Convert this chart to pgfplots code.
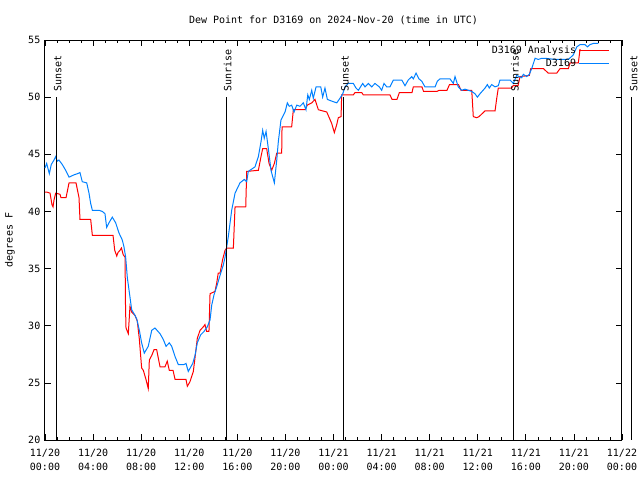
\documentclass[border=0pt]{standalone}
\usepackage{pgfplots}
\pgfplotsset{compat=1.18}
\usepackage{fontspec}
\setmainfont{DejaVu Sans Mono}
\definecolor{ared}{RGB}{255,0,0}
\definecolor{obsblue}{RGB}{0,128,255}
\newcommand{\gfont}{\fontsize{7.5}{10.5}\selectfont}
\begin{document}
\begin{tikzpicture}
\path[use as bounding box] (-33.75pt,-30pt) rectangle (446.25pt,330pt);
\begin{axis}[
  at={(0,0)}, anchor=south west,
  scale only axis, width=432.75pt, height=300pt,
  xmin=0, xmax=48, ymin=20, ymax=55,
  xtick={0,4,...,48}, minor xtick={0,1,...,48},
  ytick={20,25,...,55},
  xticklabels={{11/20\\00:00},{11/20\\04:00},{11/20\\08:00},{11/20\\12:00},{11/20\\16:00},{11/20\\20:00},{11/21\\00:00},{11/21\\04:00},{11/21\\08:00},{11/21\\12:00},{11/21\\16:00},{11/21\\20:00},{11/22\\00:00}},
  xticklabel style={align=center, font=\gfont, yshift=-3.5pt},
  yticklabel style={font=\gfont},
  /pgf/number format/assume math mode=true,
  tick align=inside, major tick length=4.5pt, minor tick length=2.5pt,
  tick style={black, line width=0.5pt},
  axis line style={line width=0.75pt},
  clip=false,
  legend style={at={(rel axis cs:1,1)}, anchor=north east, draw=none, fill=none, inner sep=0pt, xshift=-9pt, yshift=-2.25pt, font=\gfont, row sep=-1.5pt},
  legend plot pos=right, legend cell align=right,
  legend image code/.code={\draw[#1] (0pt,0pt) -- (22.5pt,0pt);},
]
\addplot[ared, line width=0.75pt] table {
0 41.7
0.14 41.7
0.42 41.6
0.58 40.6
0.67 40.4
0.75 41.0
0.89 41.6
1.25 41.5
1.33 41.2
1.75 41.2
2.00 42.5
2.58 42.5
2.83 41.2
2.91 39.3
3.80 39.3
3.94 37.9
5.66 37.9
5.80 36.6
5.97 36.1
6.07 36.4
6.24 36.6
6.36 36.8
6.51 36.2
6.66 36.0
6.70 31.5
6.74 29.8
6.93 29.3
7.07 31.7
7.21 31.2
7.49 30.9
7.68 30.4
7.85 28.8
8.04 26.3
8.18 26.1
8.40 25.3
8.59 24.5
8.68 27.0
8.88 27.4
9.07 27.9
9.29 27.9
9.57 26.4
9.98 26.4
10.17 26.9
10.34 26.1
10.65 26.1
10.82 25.3
11.73 25.3
11.84 24.7
12.06 25.1
12.34 26.0
12.56 27.9
12.67 28.9
12.90 29.6
13.17 29.9
13.31 30.1
13.45 29.5
13.64 29.5
13.73 32.8
14.14 33.0
14.28 33.7
14.41 34.6
14.56 34.6
14.78 35.8
14.98 36.6
15.12 36.8
15.67 36.8
15.81 40.4
16.70 40.4
16.78 43.5
17.75 43.6
17.97 44.8
18.11 45.5
18.44 45.5
18.64 44.2
18.86 43.6
19.08 44.2
19.28 45.1
19.69 45.1
19.72 47.4
20.52 47.4
20.66 48.9
21.63 48.9
21.82 49.3
22.19 49.5
22.46 49.8
22.74 48.9
23.44 48.7
23.85 47.7
24.07 46.9
24.27 47.6
24.40 48.2
24.63 48.3
24.68 50.2
25.65 50.2
25.79 50.4
26.35 50.4
26.48 50.2
28.70 50.2
28.87 49.8
29.28 49.8
29.48 50.4
30.53 50.4
30.64 50.9
31.36 50.9
31.49 50.5
32.61 50.5
32.80 50.6
33.44 50.6
33.65 51.1
34.40 51.1
34.61 50.6
35.50 50.6
35.63 48.3
35.91 48.2
36.11 48.3
36.61 48.8
37.44 48.8
37.58 49.9
37.71 50.8
38.83 50.8
38.94 51.0
39.35 51.0
39.52 51.8
40.29 51.9
40.41 52.5
41.46 52.5
41.87 52.1
42.57 52.1
42.85 52.5
43.54 52.5
43.68 53.0
44.37 53.0
44.51 54.2
};
\addlegendentry{D3169 Analysis}
\addplot[obsblue, line width=0.75pt] table {
0.00 43.8
0.14 44.2
0.36 43.3
0.52 44.1
0.75 44.5
0.89 44.8
1.02 44.4
1.16 44.5
1.44 44.1
1.72 43.6
2.00 43.0
2.41 43.2
2.69 43.3
2.91 43.4
3.10 42.6
3.47 42.5
3.66 41.6
3.80 40.7
3.94 40.1
4.49 40.1
4.77 40.0
4.99 39.8
5.13 38.6
5.32 39.0
5.60 39.5
5.88 39.0
6.16 38.1
6.43 37.5
6.57 36.9
6.71 36.0
6.85 34.2
7.07 32.5
7.21 31.4
7.49 30.9
7.63 30.6
7.85 29.6
8.04 28.5
8.26 27.6
8.59 28.2
8.88 29.6
9.15 29.8
9.57 29.3
9.84 28.8
10.07 28.2
10.34 28.5
10.54 28.2
10.82 27.3
11.09 26.6
11.56 26.6
11.73 26.7
11.92 26.0
12.29 26.7
12.48 27.4
12.67 28.5
12.95 29.2
13.23 29.5
13.50 29.9
13.73 30.5
13.87 31.8
14.06 32.7
14.28 33.4
14.56 34.4
14.83 35.3
14.98 36.0
15.25 37.8
15.53 40.1
15.81 41.6
16.22 42.5
16.58 42.8
16.78 42.6
16.91 43.5
17.47 43.9
17.75 44.8
17.97 46.1
18.11 47.1
18.24 46.4
18.39 47.0
18.58 45.5
18.80 43.6
19.08 42.5
19.28 44.5
19.41 46.1
19.63 48.0
19.97 48.7
20.16 49.5
20.32 49.2
20.52 49.3
20.72 48.7
20.94 49.3
21.21 49.2
21.49 49.5
21.71 48.9
21.86 50.2
21.99 49.8
22.19 50.6
22.32 49.9
22.55 50.9
22.94 50.9
23.10 50.0
23.29 50.8
23.49 49.8
23.99 49.6
24.27 49.5
24.54 49.9
24.77 50.3
24.96 50.9
25.23 51.2
25.65 51.2
25.87 50.8
26.07 50.6
26.43 51.2
26.62 50.9
26.90 51.2
27.18 50.9
27.45 51.2
27.81 50.9
28.01 50.6
28.20 51.2
28.43 50.9
28.70 50.9
28.98 51.5
29.68 51.5
29.95 51.0
30.22 51.5
30.51 51.8
30.64 51.6
30.87 52.1
31.11 51.6
31.34 51.4
31.61 50.9
32.45 50.9
32.64 51.4
32.86 51.6
33.69 51.6
33.97 51.2
34.11 51.8
34.38 50.9
34.67 50.6
34.94 50.7
35.22 50.6
35.50 50.5
35.77 50.3
35.97 50.0
36.19 50.3
36.61 50.8
36.80 51.1
36.96 50.8
37.16 51.1
37.44 50.9
37.71 51.0
37.85 51.5
38.69 51.5
38.96 51.2
39.24 51.9
39.66 51.7
39.79 52.0
40.07 51.8
40.29 52.0
40.49 52.5
40.77 53.4
41.04 53.3
41.32 53.4
41.60 53.4
42.43 53.3
43.26 53.3
43.54 53.3
43.95 53.7
44.24 54.4
44.51 54.6
44.92 54.6
45.12 54.4
45.34 54.6
45.62 54.7
46.03 54.7
};
\addlegendentry{D3169}
% sunrise / sunset markers
\foreach \t/\lab in {0.92/Sunset,15.06/Sunrise,24.82/Sunset,38.96/Sunrise,48.83/Sunset}{
  \edef\tmp{\noexpand\draw[black, line width=0.75pt] (axis cs:\t,50) -- (axis cs:\t,20);
    \noexpand\node[rotate=90, anchor=base west, inner sep=0pt, font=\noexpand\gfont] at ([xshift=4pt,yshift=3.75pt]axis cs:\t,50) {\lab};}
  \tmp
}
\node[anchor=base, font=\gfont] at ([yshift=12.75pt]rel axis cs:0.5,1) {Dew Point for D3169 on 2024-Nov-20 (time in UTC)};
\node[rotate=90, font=\gfont] at ([xshift=-26.25pt]rel axis cs:0,0.5) {degrees F};
\end{axis}
\end{tikzpicture}
\end{document}
